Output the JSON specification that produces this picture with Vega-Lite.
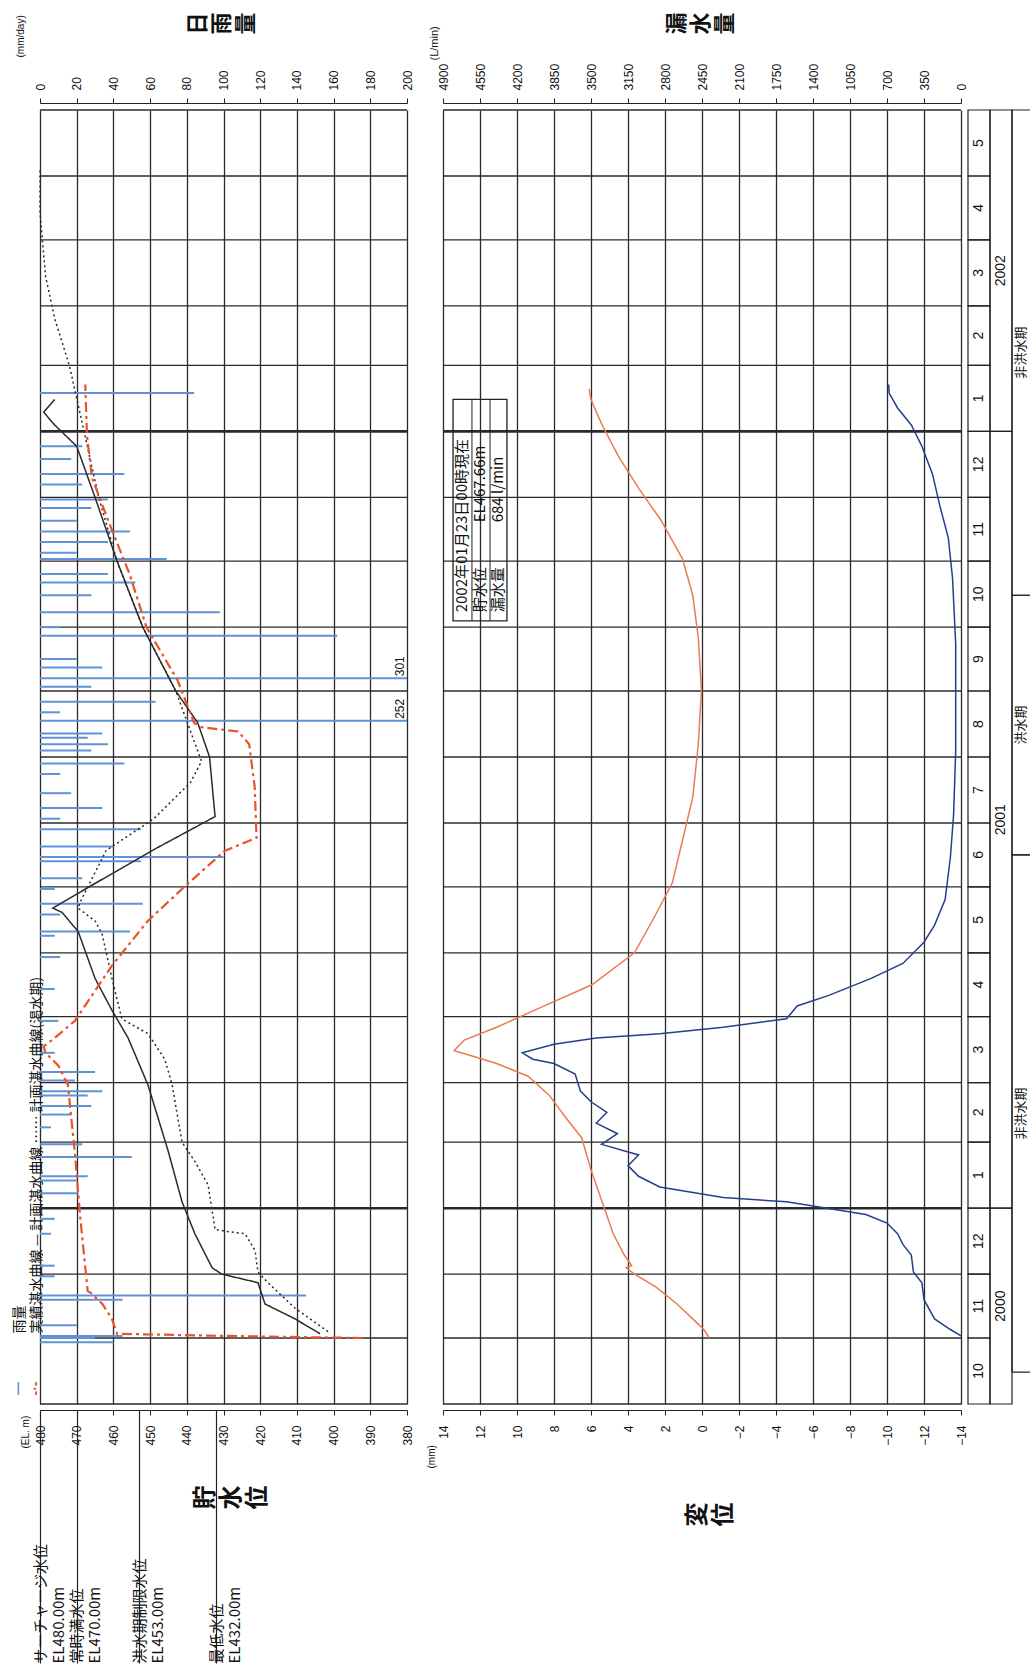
{
"$schema": "https://vega.github.io/schema/vega-lite/v6.json",
"autosize": "none",
"width": 990,
"height": 1294,
"padding": {"left": 40, "top": 110, "right": 0, "bottom": 262},
"background": "white",
"config": {"view": {"stroke": null}, "axis": {"labelFont": "Liberation Sans", "titleFont": "Noto Sans CJK JP", "labelColor": "#111", "titleColor": "#111", "domainColor": "#222", "tickColor": "#222", "labelFlush": false, "labelOverlap": false, "labelBound": false}, "text": {"font": "Noto Sans CJK JP"}},
"datasets": {
"months": [{"m":"2000/10/01"},{"m":"2000/11/01"},{"m":"2000/12/01"},{"m":"2001/01/01"},{"m":"2001/02/01"},{"m":"2001/03/01"},{"m":"2001/04/01"},{"m":"2001/05/01"},{"m":"2001/06/01"},{"m":"2001/07/01"},{"m":"2001/08/01"},{"m":"2001/09/01"},{"m":"2001/10/01"},{"m":"2001/11/01"},{"m":"2001/12/01"},{"m":"2002/01/01"},{"m":"2002/02/01"},{"m":"2002/03/01"},{"m":"2002/04/01"},{"m":"2002/05/01"},{"m":"2002/06/01"}],
"mcells": [{"s":"2000/10/01","e":"2000/11/01","mo":"10"},{"s":"2000/11/01","e":"2000/12/01","mo":"11"},{"s":"2000/12/01","e":"2001/01/01","mo":"12"},{"s":"2001/01/01","e":"2001/02/01","mo":"1"},{"s":"2001/02/01","e":"2001/03/01","mo":"2"},{"s":"2001/03/01","e":"2001/04/01","mo":"3"},{"s":"2001/04/01","e":"2001/05/01","mo":"4"},{"s":"2001/05/01","e":"2001/06/01","mo":"5"},{"s":"2001/06/01","e":"2001/07/01","mo":"6"},{"s":"2001/07/01","e":"2001/08/01","mo":"7"},{"s":"2001/08/01","e":"2001/09/01","mo":"8"},{"s":"2001/09/01","e":"2001/10/01","mo":"9"},{"s":"2001/10/01","e":"2001/11/01","mo":"10"},{"s":"2001/11/01","e":"2001/12/01","mo":"11"},{"s":"2001/12/01","e":"2002/01/01","mo":"12"},{"s":"2002/01/01","e":"2002/02/01","mo":"1"},{"s":"2002/02/01","e":"2002/03/01","mo":"2"},{"s":"2002/03/01","e":"2002/04/01","mo":"3"},{"s":"2002/04/01","e":"2002/05/01","mo":"4"},{"s":"2002/05/01","e":"2002/06/01","mo":"5"}],
"ycells": [{"s":"2000/10/01","e":"2001/01/01","yr":"2000"},{"s":"2001/01/01","e":"2002/01/01","yr":"2001"},{"s":"2002/01/01","e":"2002/06/01","yr":"2002"}],
"scells": [{"s":"2000/10/16","e":"2001/06/16","name":"非洪水期"},{"s":"2001/06/16","e":"2001/10/16","name":"洪水期"},{"s":"2001/10/16","e":"2002/06/01","name":"非洪水期"}],
"rain": [{"date":"2000/10/30","rain":40},{"date":"2000/11/01","rain":30},{"date":"2000/11/02","rain":45},{"date":"2000/11/07","rain":20},{"date":"2000/11/19","rain":45},{"date":"2000/11/21","rain":145},{"date":"2000/11/30","rain":8},{"date":"2000/12/05","rain":8},{"date":"2000/12/20","rain":6},{"date":"2000/12/27","rain":8},{"date":"2001/01/08","rain":21},{"date":"2001/01/14","rain":20},{"date":"2001/01/16","rain":26},{"date":"2001/01/25","rain":50},{"date":"2001/01/31","rain":23},{"date":"2001/02/08","rain":6},{"date":"2001/02/14","rain":17},{"date":"2001/02/18","rain":28},{"date":"2001/02/23","rain":26},{"date":"2001/02/25","rain":34},{"date":"2001/03/02","rain":19},{"date":"2001/03/06","rain":30},{"date":"2001/03/15","rain":8},{"date":"2001/03/30","rain":10},{"date":"2001/04/14","rain":8},{"date":"2001/04/29","rain":11},{"date":"2001/05/09","rain":8},{"date":"2001/05/11","rain":49},{"date":"2001/05/19","rain":11},{"date":"2001/05/24","rain":56},{"date":"2001/05/31","rain":8},{"date":"2001/06/05","rain":23},{"date":"2001/06/13","rain":55},{"date":"2001/06/15","rain":100},{"date":"2001/06/20","rain":40},{"date":"2001/06/28","rain":55},{"date":"2001/07/03","rain":11},{"date":"2001/07/08","rain":34},{"date":"2001/07/15","rain":17},{"date":"2001/07/24","rain":11},{"date":"2001/07/29","rain":46},{"date":"2001/08/04","rain":28},{"date":"2001/08/07","rain":37},{"date":"2001/08/10","rain":26},{"date":"2001/08/12","rain":34},{"date":"2001/08/18","rain":252},{"date":"2001/08/22","rain":11},{"date":"2001/08/27","rain":63},{"date":"2001/09/03","rain":28},{"date":"2001/09/07","rain":301},{"date":"2001/09/12","rain":34},{"date":"2001/09/16","rain":20},{"date":"2001/09/27","rain":162},{"date":"2001/10/01","rain":11},{"date":"2001/10/08","rain":98},{"date":"2001/10/16","rain":28},{"date":"2001/10/22","rain":52},{"date":"2001/10/26","rain":37},{"date":"2001/11/02","rain":69},{"date":"2001/11/05","rain":20},{"date":"2001/11/10","rain":37},{"date":"2001/11/15","rain":49},{"date":"2001/11/20","rain":20},{"date":"2001/11/26","rain":28},{"date":"2001/11/30","rain":37},{"date":"2001/12/07","rain":23},{"date":"2001/12/12","rain":46},{"date":"2001/12/19","rain":17},{"date":"2001/12/25","rain":23},{"date":"2002/01/19","rain":84}],
"plan": [{"date":"2000/11/03","level":403.7,"series":"計画湛水曲線"},{"date":"2000/11/10","level":410.5,"series":"計画湛水曲線"},{"date":"2000/11/17","level":418.7,"series":"計画湛水曲線"},{"date":"2000/11/27","level":420.6,"series":"計画湛水曲線"},{"date":"2000/12/01","level":430.4,"series":"計画湛水曲線"},{"date":"2000/12/04","level":433.1,"series":"計画湛水曲線"},{"date":"2000/12/20","level":437.8,"series":"計画湛水曲線"},{"date":"2001/01/04","level":441.3,"series":"計画湛水曲線"},{"date":"2001/01/28","level":445.1,"series":"計画湛水曲線"},{"date":"2001/02/28","level":450.6,"series":"計画湛水曲線"},{"date":"2001/03/22","level":456.0,"series":"計画湛水曲線"},{"date":"2001/04/04","level":460.4,"series":"計画湛水曲線"},{"date":"2001/04/19","level":465.0,"series":"計画湛水曲線"},{"date":"2001/05/11","level":469.6,"series":"計画湛水曲線"},{"date":"2001/05/20","level":474.0,"series":"計画湛水曲線"},{"date":"2001/05/22","level":476.5,"series":"計画湛水曲線"},{"date":"2001/05/30","level":468.6,"series":"計画湛水曲線"},{"date":"2001/06/18","level":449.5,"series":"計画湛水曲線"},{"date":"2001/07/04","level":432.3,"series":"計画湛水曲線"},{"date":"2001/08/01","level":433.8,"series":"計画湛水曲線"},{"date":"2001/08/17","level":437,"series":"計画湛水曲線"},{"date":"2001/09/01","level":443,"series":"計画湛水曲線"},{"date":"2001/10/01","level":452,"series":"計画湛水曲線"},{"date":"2001/11/01","level":459,"series":"計画湛水曲線"},{"date":"2001/12/01","level":465,"series":"計画湛水曲線"},{"date":"2001/12/25","level":470,"series":"計画湛水曲線"},{"date":"2002/01/04","level":476,"series":"計画湛水曲線"},{"date":"2002/01/10","level":479,"series":"計画湛水曲線"},{"date":"2002/01/16","level":476,"series":"計画湛水曲線"},
{"date":"2000/11/04","level":401.5,"series":"計画湛水曲線(渇水期)"},{"date":"2000/11/15","level":410.5,"series":"計画湛水曲線(渇水期)"},{"date":"2000/11/27","level":417.9,"series":"計画湛水曲線(渇水期)"},{"date":"2000/12/02","level":420.6,"series":"計画湛水曲線(渇水期)"},{"date":"2000/12/12","level":421.4,"series":"計画湛水曲線(渇水期)"},{"date":"2000/12/20","level":424.1,"series":"計画湛水曲線(渇水期)"},{"date":"2000/12/21","level":428.8,"series":"計画湛水曲線(渇水期)"},{"date":"2000/12/22","level":432.3,"series":"計画湛水曲線(渇水期)"},{"date":"2001/01/12","level":434.2,"series":"計画湛水曲線(渇水期)"},{"date":"2001/01/23","level":437.8,"series":"計画湛水曲線(渇水期)"},{"date":"2001/02/01","level":441.3,"series":"計画湛水曲線(渇水期)"},{"date":"2001/02/28","level":444,"series":"計画湛水曲線(渇水期)"},{"date":"2001/03/12","level":446,"series":"計画湛水曲線(渇水期)"},{"date":"2001/03/24","level":450.6,"series":"計画湛水曲線(渇水期)"},{"date":"2001/03/31","level":457.7,"series":"計画湛水曲線(渇水期)"},{"date":"2001/04/19","level":460.4,"series":"計画湛水曲線(渇水期)"},{"date":"2001/05/10","level":463.1,"series":"計画湛水曲線(渇水期)"},{"date":"2001/05/16","level":465,"series":"計画湛水曲線(渇水期)"},{"date":"2001/05/22","level":469.6,"series":"計画湛水曲線(渇水期)"},{"date":"2001/05/25","level":469,"series":"計画湛水曲線(渇水期)"},{"date":"2001/06/18","level":462,"series":"計画湛水曲線(渇水期)"},{"date":"2001/07/03","level":449,"series":"計画湛水曲線(渇水期)"},{"date":"2001/07/20","level":439,"series":"計画湛水曲線(渇水期)"},{"date":"2001/07/30","level":436,"series":"計画湛水曲線(渇水期)"},{"date":"2001/09/01","level":443,"series":"計画湛水曲線(渇水期)"},{"date":"2001/10/01","level":452,"series":"計画湛水曲線(渇水期)"},{"date":"2001/11/01","level":459,"series":"計画湛水曲線(渇水期)"},{"date":"2001/12/01","level":464,"series":"計画湛水曲線(渇水期)"},{"date":"2002/01/01","level":468,"series":"計画湛水曲線(渇水期)"},{"date":"2002/02/01","level":472,"series":"計画湛水曲線(渇水期)"},{"date":"2002/02/23","level":476,"series":"計画湛水曲線(渇水期)"},{"date":"2002/03/15","level":478.5,"series":"計画湛水曲線(渇水期)"},{"date":"2002/04/14","level":480,"series":"計画湛水曲線(渇水期)"},{"date":"2002/05/04","level":480,"series":"計画湛水曲線(渇水期)"}],
"actual": [{"date":"2000/11/01","level":392},{"date":"2000/11/02","level":430},{"date":"2000/11/03","level":459},{"date":"2000/11/10","level":460.4},{"date":"2000/11/17","level":463},{"date":"2000/11/22","level":466},{"date":"2000/11/23","level":467},{"date":"2000/12/27","level":469},{"date":"2001/01/27","level":470.5},{"date":"2001/02/28","level":472.4},{"date":"2001/03/09","level":475},{"date":"2001/03/15","level":478.5},{"date":"2001/03/18","level":479},{"date":"2001/03/22","level":476},{"date":"2001/03/30","level":470.5},{"date":"2001/04/25","level":460.4},{"date":"2001/05/16","level":450.6},{"date":"2001/05/31","level":441.3},{"date":"2001/06/18","level":429.6},{"date":"2001/06/24","level":421},{"date":"2001/07/18","level":421.5},{"date":"2001/08/07","level":423},{"date":"2001/08/13","level":426},{"date":"2001/08/15","level":436},{"date":"2001/08/17","level":438},{"date":"2001/09/06","level":442.5},{"date":"2001/10/01","level":451},{"date":"2001/10/26","level":455.6},{"date":"2001/11/20","level":461.4},{"date":"2001/12/10","level":465.8},{"date":"2001/12/30","level":467.2},{"date":"2002/01/23","level":467.66}],
"leak": [{"date":"2000/11/02","q":0},{"date":"2000/11/05","q":100},{"date":"2000/11/10","q":250},{"date":"2000/11/19","q":350},{"date":"2000/11/27","q":370},{"date":"2000/12/02","q":450},{"date":"2000/12/10","q":470},{"date":"2000/12/15","q":550},{"date":"2000/12/20","q":600},{"date":"2000/12/25","q":700},{"date":"2000/12/29","q":900},{"date":"2000/12/31","q":1150},{"date":"2001/01/04","q":1650},{"date":"2001/01/06","q":2250},{"date":"2001/01/11","q":2850},{"date":"2001/01/16","q":3050},{"date":"2001/01/21","q":3150},{"date":"2001/01/26","q":3050},{"date":"2001/01/31","q":3400},{"date":"2001/02/05","q":3250},{"date":"2001/02/10","q":3450},{"date":"2001/02/15","q":3350},{"date":"2001/02/20","q":3500},{"date":"2001/02/25","q":3600},{"date":"2001/03/05","q":3650},{"date":"2001/03/10","q":3850},{"date":"2001/03/12","q":4050},{"date":"2001/03/15","q":4150},{"date":"2001/03/19","q":3850},{"date":"2001/03/22","q":3450},{"date":"2001/03/24","q":2850},{"date":"2001/03/27","q":2250},{"date":"2001/03/31","q":1650},{"date":"2001/04/06","q":1550},{"date":"2001/04/11","q":1250},{"date":"2001/04/19","q":850},{"date":"2001/04/26","q":550},{"date":"2001/05/06","q":350},{"date":"2001/05/14","q":250},{"date":"2001/05/26","q":150},{"date":"2001/06/15","q":100},{"date":"2001/07/05","q":70},{"date":"2001/08/04","q":50},{"date":"2001/09/23","q":50},{"date":"2001/10/24","q":80},{"date":"2001/11/12","q":120},{"date":"2001/11/27","q":200},{"date":"2001/12/12","q":270},{"date":"2001/12/25","q":370},{"date":"2002/01/04","q":470},{"date":"2002/01/12","q":600},{"date":"2002/01/19","q":680},{"date":"2002/01/23","q":684}],
"disp": [{"date":"2000/11/01","d":-0.4},{"date":"2000/11/05","d":-0.1},{"date":"2000/11/10","d":0.5},{"date":"2000/11/17","d":1.35},{"date":"2000/11/25","d":2.5},{"date":"2000/12/01","d":3.65},{"date":"2000/12/04","d":4.1},{"date":"2000/12/05","d":3.8},{"date":"2000/12/10","d":4.2},{"date":"2000/12/20","d":4.8},{"date":"2001/01/04","d":5.4},{"date":"2001/01/19","d":6.0},{"date":"2001/02/03","d":6.5},{"date":"2001/02/13","d":7.4},{"date":"2001/02/23","d":8.25},{"date":"2001/03/04","d":9.4},{"date":"2001/03/10","d":11.1},{"date":"2001/03/14","d":12.6},{"date":"2001/03/16","d":13.4},{"date":"2001/03/21","d":12.85},{"date":"2001/03/27","d":11.1},{"date":"2001/04/05","d":8.8},{"date":"2001/04/16","d":5.95},{"date":"2001/05/01","d":3.65},{"date":"2001/05/19","d":2.5},{"date":"2001/06/03","d":1.6},{"date":"2001/06/23","d":1.05},{"date":"2001/07/13","d":0.5},{"date":"2001/08/07","d":0.2},{"date":"2001/09/01","d":0.03},{"date":"2001/09/26","d":0.2},{"date":"2001/10/16","d":0.5},{"date":"2001/11/02","d":1.05},{"date":"2001/11/20","d":2.2},{"date":"2001/12/05","d":3.4},{"date":"2001/12/20","d":4.5},{"date":"2002/01/04","d":5.4},{"date":"2002/01/16","d":6.0},{"date":"2002/01/21","d":6.1}]
},
"resolve": {"scale": {"x": "independent"}, "axis": {"x": "independent", "y": "independent"}},
"layer": [
{"data": {"name": "months"}, "mark": {"type": "rule", "color": "#2a2a2a"},
 "encoding": {"y": {"field": "m", "type": "temporal", "scale": {"domain": [{"year":2000,"month":10,"date":1},{"year":2002,"month":6,"date":1}], "nice": false}, "axis": null},
  "x": {"datum": 480, "type": "quantitative", "scale": {"domain": [480, 380], "range": [0, 367]}, "axis": null},
  "x2": {"datum": 380},
  "strokeWidth": {"condition": {"test": "month(datum.m) == 0", "value": 2.6}, "value": 1.3}}},
{"data": {"name": "months"}, "mark": {"type": "rule", "color": "#2a2a2a"},
 "encoding": {"y": {"field": "m", "type": "temporal", "scale": {"domain": [{"year":2000,"month":10,"date":1},{"year":2002,"month":6,"date":1}], "nice": false}, "axis": null},
  "x": {"datum": 14, "type": "quantitative", "scale": {"domain": [14, -14], "range": [403, 921]}, "axis": {"orient": "bottom", "offset": 6, "labels": false, "ticks": false, "domain": false, "grid": false, "title": "(mm)", "titleAngle": -90, "titleFont": "Liberation Sans", "titleFontSize": 10, "titleFontWeight": "normal", "titleAlign": "left", "titleBaseline": "top", "titleX": 386, "titleY": 58}},
  "x2": {"datum": -14},
  "strokeWidth": {"condition": {"test": "month(datum.m) == 0", "value": 2.6}, "value": 1.3}}},
{"data": {"name": "rain"}, "mark": {"type": "rule", "color": "#5f93d3", "strokeWidth": 2},
 "encoding": {"y": {"field": "date", "type": "temporal", "scale": {"domain": [{"year":2000,"month":10,"date":1},{"year":2002,"month":6,"date":1}], "nice": false},
   "axis": {"orient": "left", "domain": false, "ticks": false, "labels": false, "grid": false, "title": "—", "titleAngle": -90, "titleColor": "#5f93d3", "titleFontSize": 16, "titleAlign": "center", "titleBaseline": "middle", "titleX": -23, "titleY": 1278}},
  "x": {"field": "rain", "type": "quantitative", "scale": {"domain": [0, 200], "range": [0, 367], "clamp": true},
   "axis": {"orient": "top", "offset": 7, "values": [0,20,40,60,80,100,120,140,160,180,200], "format": "d", "labelAngle": -90, "labelAlign": "left", "labelBaseline": "middle", "labelPadding": 8, "labelFontSize": 12, "tickSize": 5, "grid": false,
    "title": ["日","雨","量"], "titleAngle": -90, "titleFontSize": 22, "titleFontWeight": "bold", "titleLineHeight": 24, "titleAlign": "center", "titleBaseline": "top", "titleX": 147, "titleY": -80}},
  "x2": {"datum": 0}}},
{"data": {"name": "rain"}, "transform": [{"filter": "datum.rain > 200"}],
 "mark": {"type": "text", "angle": -90, "align": "left", "baseline": "bottom", "font": "Liberation Sans", "fontSize": 12, "dx": 2, "color": "#111"},
 "encoding": {"y": {"field": "date", "type": "temporal", "scale": {"domain": [{"year":2000,"month":10,"date":1},{"year":2002,"month":6,"date":1}], "nice": false}, "axis": null},
  "x": {"field": "rain", "type": "quantitative", "scale": {"domain": [0, 200], "range": [0, 367], "clamp": true},
   "axis": {"orient": "top", "offset": 7, "labels": false, "ticks": false, "domain": false, "grid": false, "title": "(mm/day)", "titleAngle": -90, "titleFont": "Liberation Sans", "titleFontSize": 10, "titleFontWeight": "normal", "titleAlign": "left", "titleBaseline": "top", "titleX": -25, "titleY": -46}},
  "text": {"field": "rain", "type": "quantitative"}}},
{"data": {"name": "plan"}, "mark": {"type": "line", "color": "#2a2a2a", "strokeWidth": 1.5},
 "encoding": {"y": {"field": "date", "type": "temporal", "scale": {"domain": [{"year":2000,"month":10,"date":1},{"year":2002,"month":6,"date":1}], "nice": false},
   "axis": {"orient": "left", "domain": false, "ticks": false, "labels": false, "grid": false, "title": ["雨量", "実績湛水曲線 — 計画湛水曲線 …… 計画湛水曲線(渇水期)"], "titleAngle": -90, "titleFontSize": 14, "titleFontWeight": "normal", "titleLineHeight": 17, "titleAlign": "left", "titleBaseline": "top", "titleX": -28, "titleY": 1223}},
  "x": {"field": "level", "type": "quantitative", "scale": {"domain": [480, 380], "range": [0, 367]},
   "axis": {"orient": "bottom", "offset": 6, "values": [480,470,460,450,440,430,420,410,400,390,380], "format": "d", "labelAngle": -90, "labelAlign": "right", "labelBaseline": "middle", "labelPadding": 10, "labelFontSize": 12, "tickSize": 5, "grid": true, "gridColor": "#2a2a2a", "gridWidth": 1.3, "gridOpacity": 1,
    "title": "(EL. m)", "titleAngle": -90, "titleFont": "Liberation Sans", "titleFontSize": 10, "titleFontWeight": "normal", "titleAlign": "left", "titleBaseline": "top", "titleX": -20, "titleY": 38}},
  "strokeDash": {"field": "series", "type": "nominal", "scale": {"domain": ["計画湛水曲線", "計画湛水曲線(渇水期)"], "range": [[1, 0], [2, 3]]}, "legend": null},
  "order": {"field": "date", "type": "temporal"}}},
{"data": {"name": "actual"}, "mark": {"type": "line", "color": "#e8532b", "strokeWidth": 2.2, "strokeDash": [10, 4, 3, 4]},
 "encoding": {"y": {"field": "date", "type": "temporal", "scale": {"domain": [{"year":2000,"month":10,"date":1},{"year":2002,"month":6,"date":1}], "nice": false},
   "axis": {"orient": "left", "domain": false, "ticks": false, "labels": false, "grid": false, "title": "-·-", "titleAngle": -90, "titleColor": "#e8532b", "titleFont": "Liberation Sans", "titleFontSize": 14, "titleFontWeight": "bold", "titleAlign": "center", "titleBaseline": "middle", "titleX": -5, "titleY": 1278}},
  "x": {"field": "level", "type": "quantitative", "scale": {"domain": [480, 380], "range": [0, 367]},
   "axis": {"orient": "bottom", "offset": 6, "values": [480, 470, 453, 432], "domain": false, "grid": false, "tickSize": 253, "tickWidth": 1.2, "tickColor": "#222",
    "labelExpr": "datum.value == 480 ? ['サーチャージ水位', 'EL480.00m'] : datum.value == 470 ? ['常時満水位', 'EL470.00m'] : datum.value == 453 ? ['洪水期制限水位', 'EL453.00m'] : ['最低水位', 'EL432.00m']",
    "labelAngle": -90, "labelAlign": "left", "labelBaseline": "middle", "labelPadding": 0, "labelLineHeight": 18, "labelFontSize": 15, "labelFont": "Noto Sans CJK JP",
    "title": ["貯","水","位"], "titleAngle": -90, "titleFontSize": 24, "titleFontWeight": "bold", "titleLineHeight": 26, "titleAlign": "center", "titleBaseline": "top", "titleX": 153, "titleY": 87}},
  "order": {"field": "date", "type": "temporal"}}},
{"data": {"name": "leak"}, "mark": {"type": "line", "color": "#253f8a", "strokeWidth": 1.5},
 "encoding": {"y": {"field": "date", "type": "temporal", "scale": {"domain": [{"year":2000,"month":10,"date":1},{"year":2002,"month":6,"date":1}], "nice": false}, "axis": null},
  "x": {"field": "q", "type": "quantitative", "scale": {"domain": [4900, 0], "range": [403, 921]},
   "axis": {"orient": "top", "offset": 7, "values": [4900,4550,4200,3850,3500,3150,2800,2450,2100,1750,1400,1050,700,350,0], "format": "d", "labelAngle": -90, "labelAlign": "left", "labelBaseline": "middle", "labelPadding": 8, "labelFontSize": 12, "tickSize": 5, "grid": false,
    "title": ["漏","水","量"], "titleAngle": -90, "titleFontSize": 22, "titleFontWeight": "bold", "titleLineHeight": 24, "titleAlign": "center", "titleBaseline": "top", "titleX": 626, "titleY": -80}},
  "order": {"field": "date", "type": "temporal"}}},
{"data": {"name": "disp"}, "mark": {"type": "line", "color": "#ec7a52", "strokeWidth": 1.5},
 "encoding": {"y": {"field": "date", "type": "temporal", "scale": {"domain": [{"year":2000,"month":10,"date":1},{"year":2002,"month":6,"date":1}], "nice": false}, "axis": null},
  "x": {"field": "d", "type": "quantitative", "scale": {"domain": [14, -14], "range": [403, 921]},
   "axis": {"orient": "bottom", "offset": 6, "values": [14,12,10,8,6,4,2,0,-2,-4,-6,-8,-10,-12,-14], "format": "d", "labelAngle": -90, "labelAlign": "right", "labelBaseline": "middle", "labelPadding": 10, "labelFontSize": 12, "tickSize": 5, "grid": true, "gridColor": "#2a2a2a", "gridWidth": 1.3, "gridOpacity": 1,
    "title": ["変","位"], "titleAngle": -90, "titleFontSize": 24, "titleFontWeight": "bold", "titleLineHeight": 26, "titleAlign": "center", "titleBaseline": "top", "titleX": 645, "titleY": 104}},
  "order": {"field": "date", "type": "temporal"}}},
{"data": {"values": [{}]}, "mark": {"type": "rect", "filled": false, "stroke": "#222", "strokeWidth": 1.3},
 "encoding": {"y": {"datum": {"year":2001,"month":10,"date":4}, "type": "temporal", "scale": {"domain": [{"year":2000,"month":10,"date":1},{"year":2002,"month":6,"date":1}], "nice": false}, "axis": null},
  "y2": {"datum": {"year":2002,"month":1,"date":16}},
  "x": {"datum": 4805, "type": "quantitative", "scale": {"domain": [4900, 0], "range": [403, 921]},
   "axis": {"orient": "top", "offset": 7, "labels": false, "ticks": false, "domain": false, "grid": false, "title": "(L/min)", "titleAngle": -90, "titleFont": "Liberation Sans", "titleFontSize": 11, "titleFontWeight": "normal", "titleAlign": "left", "titleBaseline": "top", "titleX": 388, "titleY": -43}},
  "x2": {"datum": 4295}}},
{"data": {"values": [{}]}, "mark": {"type": "rule", "color": "#222", "strokeWidth": 1},
 "encoding": {"y": {"datum": {"year":2001,"month":10,"date":4}, "type": "temporal", "scale": {"domain": [{"year":2000,"month":10,"date":1},{"year":2002,"month":6,"date":1}], "nice": false}, "axis": null},
  "y2": {"datum": {"year":2002,"month":1,"date":16}},
  "x": {"datum": 4626, "type": "quantitative", "scale": {"domain": [4900, 0], "range": [403, 921]}, "axis": null}}},
{"data": {"values": [{}]}, "mark": {"type": "rule", "color": "#222", "strokeWidth": 1},
 "encoding": {"y": {"datum": {"year":2001,"month":10,"date":4}, "type": "temporal", "scale": {"domain": [{"year":2000,"month":10,"date":1},{"year":2002,"month":6,"date":1}], "nice": false}, "axis": null},
  "y2": {"datum": {"year":2002,"month":1,"date":16}},
  "x": {"datum": 4455, "type": "quantitative", "scale": {"domain": [4900, 0], "range": [403, 921]}, "axis": null}}},
{"data": {"values": [{}]}, "mark": {"type": "text", "angle": -90, "align": "left", "baseline": "top", "fontSize": 15, "lineHeight": 18, "color": "#111", "text": ["2002年01月23日00時現在", "貯水位　　　EL467.66m", "漏水量　　　684  l/min"]},
 "encoding": {"y": {"datum": {"year":2001,"month":10,"date":8}, "type": "temporal", "scale": {"domain": [{"year":2000,"month":10,"date":1},{"year":2002,"month":6,"date":1}], "nice": false}, "axis": null},
  "x": {"datum": 4786, "type": "quantitative", "scale": {"domain": [4900, 0], "range": [403, 921]}, "axis": null}}},
{"data": {"name": "mcells"}, "mark": {"type": "rect", "filled": false, "stroke": "#222", "strokeWidth": 1.2},
 "encoding": {"y": {"field": "s", "type": "temporal", "scale": {"domain": [{"year":2000,"month":10,"date":1},{"year":2002,"month":6,"date":1}], "nice": false}, "axis": null},
  "y2": {"field": "e"},
  "x": {"datum": 0, "type": "quantitative", "scale": {"domain": [0, 3], "range": [928, 994]}, "axis": null},
  "x2": {"datum": 1}}},
{"data": {"name": "ycells"}, "mark": {"type": "rect", "filled": false, "stroke": "#222", "strokeWidth": 1.2},
 "encoding": {"y": {"field": "s", "type": "temporal", "scale": {"domain": [{"year":2000,"month":10,"date":1},{"year":2002,"month":6,"date":1}], "nice": false}, "axis": null},
  "y2": {"field": "e"},
  "x": {"datum": 1, "type": "quantitative", "scale": {"domain": [0, 3], "range": [928, 994]}, "axis": null},
  "x2": {"datum": 2}}},
{"data": {"name": "scells"}, "mark": {"type": "rect", "filled": false, "stroke": "#222", "strokeWidth": 1.2},
 "encoding": {"y": {"field": "s", "type": "temporal", "scale": {"domain": [{"year":2000,"month":10,"date":1},{"year":2002,"month":6,"date":1}], "nice": false}, "axis": null},
  "y2": {"field": "e"},
  "x": {"datum": 2, "type": "quantitative", "scale": {"domain": [0, 3], "range": [928, 994]}, "axis": null},
  "x2": {"datum": 3.5}}},
{"data": {"name": "mcells"}, "transform": [{"calculate": "(time(toDate(datum.s)) + time(toDate(datum.e))) / 2", "as": "mid"}],
 "mark": {"type": "text", "angle": -90, "align": "center", "baseline": "middle", "font": "Liberation Sans", "fontSize": 14, "color": "#111"},
 "encoding": {"y": {"field": "mid", "type": "temporal", "scale": {"domain": [{"year":2000,"month":10,"date":1},{"year":2002,"month":6,"date":1}], "nice": false}, "axis": null},
  "x": {"datum": 0.5, "type": "quantitative", "scale": {"domain": [0, 3], "range": [928, 994]}, "axis": null},
  "text": {"field": "mo"}}},
{"data": {"name": "ycells"}, "transform": [{"calculate": "(time(toDate(datum.s)) + time(toDate(datum.e))) / 2", "as": "mid"}],
 "mark": {"type": "text", "angle": -90, "align": "center", "baseline": "middle", "font": "Liberation Sans", "fontSize": 14, "color": "#111"},
 "encoding": {"y": {"field": "mid", "type": "temporal", "scale": {"domain": [{"year":2000,"month":10,"date":1},{"year":2002,"month":6,"date":1}], "nice": false}, "axis": null},
  "x": {"datum": 1.5, "type": "quantitative", "scale": {"domain": [0, 3], "range": [928, 994]}, "axis": null},
  "text": {"field": "yr"}}},
{"data": {"name": "scells"}, "transform": [{"calculate": "(time(toDate(datum.s)) + time(toDate(datum.e))) / 2", "as": "mid"}],
 "mark": {"type": "text", "angle": -90, "align": "center", "baseline": "middle", "fontSize": 13, "color": "#111"},
 "encoding": {"y": {"field": "mid", "type": "temporal", "scale": {"domain": [{"year":2000,"month":10,"date":1},{"year":2002,"month":6,"date":1}], "nice": false}, "axis": null},
  "x": {"datum": 2.4, "type": "quantitative", "scale": {"domain": [0, 3], "range": [928, 994]}, "axis": null},
  "text": {"field": "name"}}}
]
}
